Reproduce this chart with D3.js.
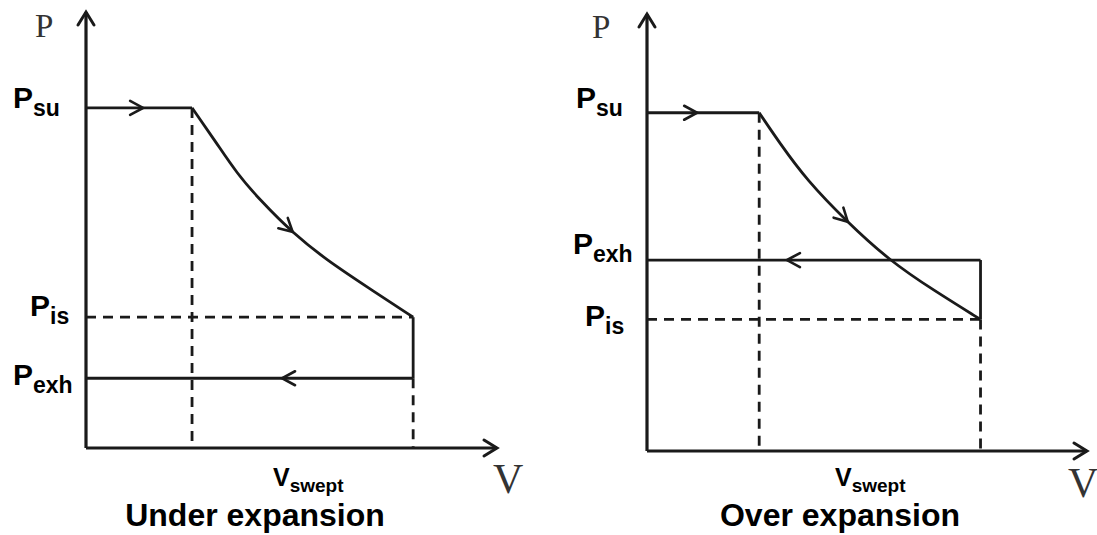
<!DOCTYPE html>
<html>
<head>
<meta charset="utf-8">
<script src="https://cdn.jsdelivr.net/npm/d3@7"></script>
<style>
  body { margin: 0; background: #fff; }
  svg { display: block; }
</style>
</head>
<body>
<svg id="vimage" width="1097" height="535"></svg>
<script>
//---------------------------------------- data (axis units 0..10) ---------------------------------------
var titles = ["Under expansion", "Over expansion"];
var supplyP = [7.8, 7.74];      // P_su
var isentropicP = [3.0, 3.01];  // P_is
var exhaustP = [1.6, 4.37];     // P_exh
var startV = [2.58, 2.55];      // end of admission
var sweptV = [7.96, 7.58];      // V_swept

// expansion curves, [V, P]
var underCurve = [[2.58, 7.8], [3.18, 6.99], [3.67, 6.30], [4.23, 5.69], [5.04, 4.92],
                  [5.86, 4.31], [6.83, 3.70], [7.96, 3.0]];
var overCurve = [[2.55, 7.74], [3.02, 7.04], [3.63, 6.20], [4.54, 5.25], [5.52, 4.35],
                 [6.51, 3.68], [7.58, 3.01]];

// where the little direction arrows sit
var supplyArrowV = [1.39, 1.14];
var exhaustArrowV = [4.77, 3.18];
var curveArrowAt = [0.52, 0.46];

//---------------------------------------- layout ---------------------------------------
var frames = [
  {ox: 86, oy: 448, top: 12, right: 497, pX: 35, pY: 37, vX: 493, vY: 493, title: 255, vs: 273,
   lab: {su: [13, 108], is: [30, 316], exh: [13, 385]}},
  {ox: 647, oy: 451, top: 14, right: 1087, pX: 592, pY: 38, vX: 1068, vY: 497, title: 840, vs: 835,
   lab: {su: [576, 108], is: [585, 326], exh: [573, 254]}}
];

var ink = "#1a1a1a";
var svg = d3.select("#vimage");

function chevron(g, x, y, angle, len, half, w) {
  g.append("path")
    .attr("d", "M" + (-len) + "," + (-half) + " L0,0 L" + (-len) + "," + half)
    .attr("transform", "translate(" + x + "," + y + ") rotate(" + angle + ")")
    .attr("fill", "none")
    .attr("stroke", ink)
    .attr("stroke-width", w)
    .attr("stroke-linejoin", "miter")
    .attr("stroke-linecap", "round");
}

function seg(g, x1, y1, x2, y2, dashed) {
  var l = g.append("line")
    .attr("x1", x1).attr("y1", y1)
    .attr("x2", x2).attr("y2", y2)
    .attr("stroke", ink)
    .attr("stroke-width", 2.8);
  if (dashed) l.attr("stroke-dasharray", "10,7");
  return l;
}

function label(g, x, y, sub) {
  var t = g.append("text")
    .attr("x", x).attr("y", y)
    .style("font-family", "'Liberation Sans', Arial, sans-serif")
    .style("font-weight", "bold")
    .style("fill", "#000");
  t.append("tspan").style("font-size", "30px").text("P");
  t.append("tspan").attr("dy", 8).style("font-size", "23px").text(sub);
}

//---------------------------------------- panels ---------------------------------------
function drawPanel(i, curve) {
  var f = frames[i];
  var x = d3.scaleLinear().domain([0, 10]).range([f.ox, f.right]);
  var y = d3.scaleLinear().domain([0, 10]).range([f.oy, f.top]);
  var g = svg.append("g");

  // axes
  g.append("line").attr("x1", x(0)).attr("y1", y(0)).attr("x2", x(0)).attr("y2", y(10))
    .attr("stroke", ink).attr("stroke-width", 3.2);
  g.append("line").attr("x1", x(0)).attr("y1", y(0)).attr("x2", x(10)).attr("y2", y(0))
    .attr("stroke", ink).attr("stroke-width", 3.2);
  chevron(g, x(0), y(10), -90, 13, 8, 3);
  chevron(g, x(10), y(0), 0, 13, 8, 3);

  // dashed guides
  seg(g, x(startV[i]), y(supplyP[i]), x(startV[i]), y(0), true);
  seg(g, x(0), y(isentropicP[i]), x(sweptV[i]), y(isentropicP[i]), true);
  var low = Math.min(isentropicP[i], exhaustP[i]);
  var high = Math.max(isentropicP[i], exhaustP[i]);
  seg(g, x(sweptV[i]), y(low), x(sweptV[i]), y(0), true);

  // cycle
  seg(g, x(0), y(supplyP[i]), x(startV[i]), y(supplyP[i]), false);
  seg(g, x(sweptV[i]), y(high), x(sweptV[i]), y(low), false);
  seg(g, x(sweptV[i]), y(exhaustP[i]), x(0), y(exhaustP[i]), false);

  var line = d3.line()
    .x(function(d) { return x(d[0]); })
    .y(function(d) { return y(d[1]); })
    .curve(d3.curveBasis);
  var path = g.append("path")
    .datum(curve)
    .attr("d", line)
    .attr("fill", "none")
    .attr("stroke", ink)
    .attr("stroke-width", 2.8);

  // arrows
  chevron(g, x(supplyArrowV[i]), y(supplyP[i]), 0, 13, 7, 2.6);
  chevron(g, x(exhaustArrowV[i]), y(exhaustP[i]), 180, 13, 7, 2.6);
  var node = path.node();
  var L = node.getTotalLength();
  var p1 = node.getPointAtLength(L * curveArrowAt[i]);
  var p0 = node.getPointAtLength(L * curveArrowAt[i] - 3);
  var ang = Math.atan2(p1.y - p0.y, p1.x - p0.x) * 180 / Math.PI;
  chevron(g, p1.x, p1.y, ang, 13, 7, 2.6);

  // axis letters
  g.append("text").attr("x", f.pX).attr("y", f.pY)
    .style("font-family", "'Liberation Serif', 'Times New Roman', serif")
    .style("font-size", "33px").style("fill", "#333").text("P");
  g.append("text").attr("x", f.vX).attr("y", f.vY)
    .style("font-family", "'Liberation Serif', 'Times New Roman', serif")
    .style("font-size", "42px").style("fill", "#333").text("V");

  // pressure labels
  label(g, f.lab.su[0], f.lab.su[1], "su");
  label(g, f.lab.is[0], f.lab.is[1], "is");
  label(g, f.lab.exh[0], f.lab.exh[1], "exh");

  // V swept
  var vs = g.append("text")
    .attr("x", f.vs).attr("y", 486)
    .style("font-family", "'Liberation Sans', Arial, sans-serif")
    .style("font-weight", "bold").style("fill", "#000");
  vs.append("tspan").style("font-size", "25px").text("V");
  vs.append("tspan").attr("dy", 6).style("font-size", "19px").text("swept");

  // title
  g.append("text")
    .attr("x", f.title).attr("y", 526)
    .attr("text-anchor", "middle")
    .style("font-family", "'Liberation Sans', Arial, sans-serif")
    .style("font-weight", "bold")
    .style("font-size", "32px")
    .style("fill", "#000")
    .text(titles[i]);
}

drawPanel(0, underCurve);
drawPanel(1, overCurve);
</script>
</body>
</html>
